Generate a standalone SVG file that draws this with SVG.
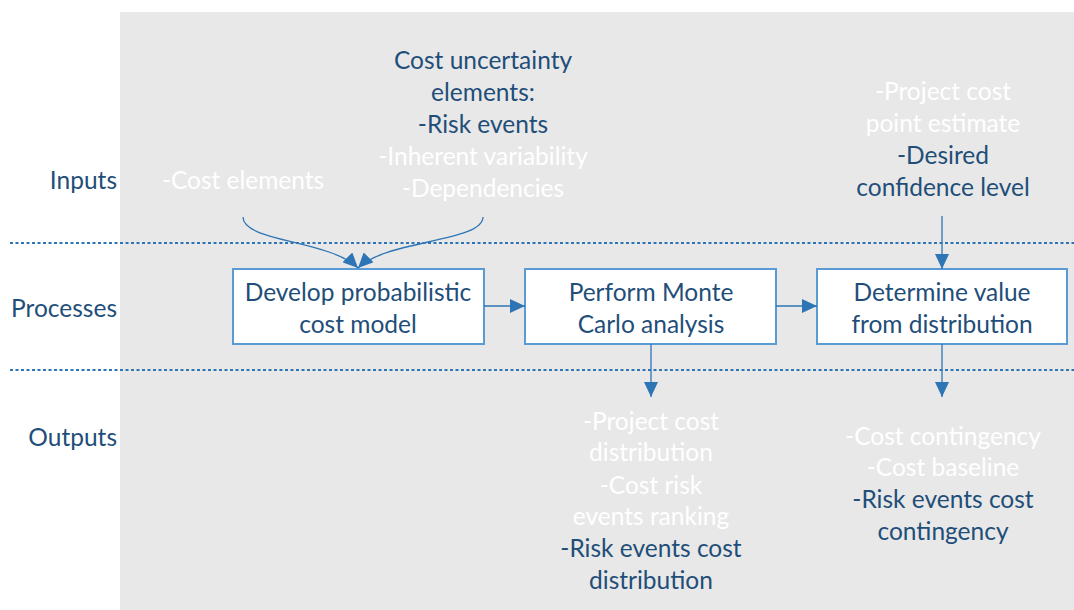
<svg xmlns="http://www.w3.org/2000/svg" width="1074" height="610" viewBox="0 0 1074 610">
<style>
.t{font-family:Lato,"Liberation Sans",sans-serif;font-size:24.5px;text-anchor:middle}
.d{fill:#1f4e79}
.w{fill:#ffffff}
.lbl{font-family:Lato,"Liberation Sans",sans-serif;font-size:24.5px;text-anchor:end;fill:#1f4e79}
.box{fill:#ffffff;stroke:#5b9bd5;stroke-width:2}
.c{fill:none;stroke:#2e75b6;stroke-width:1.3}
.sep{stroke:#2e75b6;stroke-width:2;stroke-dasharray:3 2.5}
</style>
<defs>
<marker id="ah" markerUnits="userSpaceOnUse" markerWidth="16" markerHeight="14" refX="15" refY="7" orient="auto">
<path d="M0,0 L15,7 L0,14 z" fill="#2e75b6"/>
</marker>
</defs>
<rect x="120" y="12" width="954" height="598" fill="#e8e8e8"/>
<g id="separators">
<line class="sep" x1="10" y1="243" x2="1074" y2="243"/>
<line class="sep" x1="10" y1="370" x2="1074" y2="370"/>
</g>
<g id="lane-labels">
<text class="lbl" x="117" y="189">Inputs</text>
<text class="lbl" x="117" y="317">Processes</text>
<text class="lbl" x="117" y="446">Outputs</text>
</g>
<g id="input-cost-elements">
<text class="t w" x="243" y="189">-Cost elements</text>
</g>
<g id="input-uncertainty">
<text class="t d" x="483" y="69">Cost uncertainty</text>
<text class="t d" x="483" y="101">elements:</text>
<text class="t d" x="483" y="133">-Risk events</text>
<text class="t w" x="483" y="165">-Inherent variability</text>
<text class="t w" x="483" y="197">-Dependencies</text>
</g>
<g id="input-estimate">
<text class="t w" x="943" y="100">-Project cost</text>
<text class="t w" x="943" y="132">point estimate</text>
<text class="t d" x="943" y="164">-Desired</text>
<text class="t d" x="943" y="196">confidence level</text>
</g>
<g id="node-develop">
<rect class="box" x="233" y="269" width="251" height="75"/>
<text class="t d" x="358" y="301">Develop probabilistic</text>
<text class="t d" x="358" y="333">cost model</text>
</g>
<g id="node-monte">
<rect class="box" x="525" y="269" width="251" height="75"/>
<text class="t d" x="651" y="301">Perform Monte</text>
<text class="t d" x="651" y="333">Carlo analysis</text>
</g>
<g id="node-determine">
<rect class="box" x="817" y="269" width="250" height="75"/>
<text class="t d" x="942" y="301">Determine value</text>
<text class="t d" x="942" y="333">from distribution</text>
</g>
<g id="output-monte">
<text class="t w" x="651" y="430">-Project cost</text>
<text class="t w" x="651" y="461">distribution</text>
<text class="t w" x="651" y="494">-Cost risk</text>
<text class="t w" x="651" y="525">events ranking</text>
<text class="t d" x="651" y="557">-Risk events cost</text>
<text class="t d" x="651" y="589">distribution</text>
</g>
<g id="output-determine">
<text class="t w" x="943" y="445">-Cost contingency</text>
<text class="t w" x="943" y="476">-Cost baseline</text>
<text class="t d" x="943" y="508">-Risk events cost</text>
<text class="t d" x="943" y="540">contingency</text>
</g>
<g id="connectors">
<path class="c" d="M243,217 C243,242 330,240 358,268" marker-end="url(#ah)"/>
<path class="c" d="M483,217 C483,242 386,240 358,268" marker-end="url(#ah)"/>
<path class="c" d="M484,306 L525,306" marker-end="url(#ah)"/>
<path class="c" d="M776,306 L817,306" marker-end="url(#ah)"/>
<path class="c" d="M942,216 L942,269" marker-end="url(#ah)"/>
<path class="c" d="M651,344 L651,397" marker-end="url(#ah)"/>
<path class="c" d="M942,344 L942,397" marker-end="url(#ah)"/>
</g>
</svg>
